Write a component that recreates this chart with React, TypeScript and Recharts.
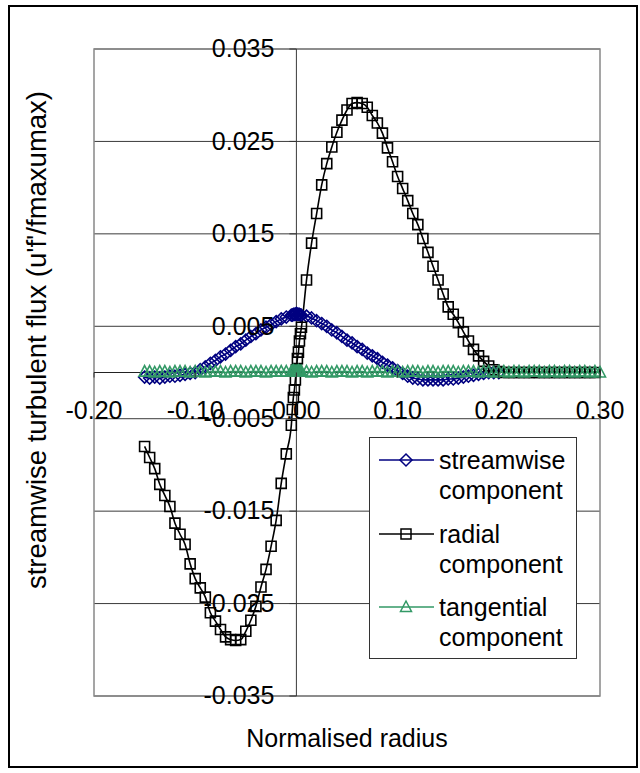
import React from "react";
import {
  LineChart,
  Line,
  XAxis,
  YAxis,
  CartesianGrid,
  ReferenceLine,
  ReferenceArea,
  Legend,
} from "recharts";

// normalised radius of each measurement station (finer steps near the axis)
const radius = [
  -0.15, -0.145, -0.14, -0.135, -0.13, -0.125, -0.12, -0.115, -0.11, -0.105,
  -0.1, -0.095, -0.09, -0.085, -0.08, -0.075, -0.07, -0.065, -0.06, -0.055,
  -0.05, -0.045, -0.04, -0.035, -0.03, -0.025, -0.02, -0.015, -0.01, -0.005,
  -0.004, -0.003, -0.002, -0.001, 0.0, 0.001, 0.002, 0.003, 0.004,
  0.005, 0.01, 0.015, 0.02, 0.025, 0.03, 0.035, 0.04, 0.045, 0.05,
  0.055, 0.06, 0.065, 0.07, 0.075, 0.08, 0.085, 0.09, 0.095, 0.1,
  0.105, 0.11, 0.115, 0.12, 0.125, 0.13, 0.135, 0.14, 0.145, 0.15,
  0.155, 0.16, 0.165, 0.17, 0.175, 0.18, 0.185, 0.19, 0.195, 0.2,
  0.205, 0.21, 0.215, 0.22, 0.225, 0.23, 0.235, 0.24, 0.245, 0.25,
  0.255, 0.26, 0.265, 0.27, 0.275, 0.28, 0.285, 0.29, 0.295, 0.3,
];

const streamwise = [
  -0.0005, -0.0006, -0.0005, -0.0006, -0.0005, -0.0004, -0.0004, -0.0003, -0.0002, -0.0001,
  0.0, 0.0003, 0.0006, 0.001, 0.0013, 0.0017, 0.002, 0.0024, 0.0028, 0.0031,
  0.0035, 0.0039, 0.0042, 0.0046, 0.0049, 0.0052, 0.0055, 0.0058, 0.006, 0.0062,
  0.0062, 0.0063, 0.0063, 0.0063, 0.0064, 0.0063, 0.0063, 0.0063, 0.0062,
  0.0062, 0.0061, 0.0059, 0.0056, 0.0053, 0.005, 0.0046, 0.0043, 0.0039, 0.0035,
  0.0032, 0.0028, 0.0025, 0.0021, 0.0018, 0.0015, 0.0011, 0.0008, 0.0005, 0.0002,
  -0.0001, -0.0004, -0.0006, -0.0007, -0.0008, -0.0008, -0.0008, -0.0008, -0.0008, -0.0007,
  -0.0007, -0.0006, -0.0005, -0.0004, -0.0003, -0.0002, -0.0001, 0.0, 0.0, 0.0,
  null, null, null, null, null, null, null, null, null, null,
  null, null, null, null, null, null, null, null, null, null,
];

const radial = [
  -0.008, -0.0092, -0.0104, -0.0121, -0.0133, -0.0145, -0.0163, -0.0175, -0.0186, -0.0207,
  -0.0223, -0.0233, -0.0243, -0.026, -0.0269, -0.0278, -0.0286, -0.0289, -0.029, -0.0289,
  -0.028, -0.0268, -0.0253, -0.0232, -0.0213, -0.0188, -0.016, -0.012, -0.0088, -0.0057,
  -0.004, -0.0027, -0.0019, -0.0008, 0.0003, 0.0015, 0.0022, 0.0034, 0.0042,
  0.0049, 0.01, 0.014, 0.0172, 0.0203, 0.0226, 0.0244, 0.026, 0.0273, 0.0284,
  0.0291, 0.0292, 0.0291, 0.0287, 0.0278, 0.027, 0.0259, 0.0243, 0.0228, 0.0212,
  0.0199, 0.0186, 0.0172, 0.016, 0.0145, 0.013, 0.0115, 0.01, 0.0085, 0.0071,
  0.0063, 0.0054, 0.0044, 0.0034, 0.0025, 0.0018, 0.0012, 0.0007, 0.0003, 0.0001,
  0.0, 0.0, 0.0, 0.0, 0.0, 0.0, 0.0, 0.0, 0.0, 0.0,
  0.0, 0.0, 0.0, 0.0, 0.0, 0.0, 0.0, 0.0, 0.0, null,
];

const tangential = [
  0.0001, 0.0001, 0.0, 0.0001, 0.0001, 0.0, 0.0001, 0.0001, 0.0001, 0.0,
  0.0001, 0.0001, 0.0, 0.0001, 0.0001, 0.0001, 0.0, 0.0001, 0.0001, 0.0001,
  0.0, 0.0001, 0.0001, 0.0001, 0.0, 0.0001, 0.0001, 0.0001, 0.0001, 0.0001,
  0.0001, 0.0002, 0.0001, 0.0001, 0.0001, 0.0001, 0.0002, 0.0001, 0.0001,
  0.0001, 0.0001, 0.0, 0.0001, 0.0001, 0.0001, 0.0, 0.0001, 0.0001, 0.0001,
  0.0, 0.0001, 0.0001, 0.0, 0.0001, 0.0001, 0.0001, 0.0, 0.0001, 0.0001,
  0.0, 0.0001, 0.0001, 0.0001, 0.0, 0.0001, 0.0001, 0.0, 0.0001, 0.0001,
  0.0001, 0.0, 0.0001, 0.0001, 0.0001, 0.0, 0.0001, 0.0001, 0.0, 0.0001,
  0.0001, 0.0, 0.0001, 0.0001, 0.0, 0.0001, 0.0001, 0.0001, 0.0, 0.0001,
  0.0001, 0.0, 0.0001, 0.0001, 0.0, 0.0001, 0.0001, 0.0, 0.0001, 0.0,
];

const xTicks = [-0.2, -0.1, 0, 0.1, 0.2, 0.3];
const yTicks = [-0.035, -0.025, -0.015, -0.005, 0.005, 0.015, 0.025, 0.035];

const data = radius.map((r, i) => ({
  r,
  streamwise: streamwise[i],
  radial: radial[i],
  tangential: tangential[i],
}));

type Shape = "diamond" | "square" | "triangle";

const series: { key: string; name: string; color: string; shape: Shape }[] = [
  { key: "streamwise", name: "streamwise component", color: "#000080", shape: "diamond" },
  { key: "radial", name: "radial component", color: "#000000", shape: "square" },
  { key: "tangential", name: "tangential component", color: "#339966", shape: "triangle" },
];

const FONT = '"Liberation Sans", Arial, sans-serif';
const FONT_SIZE = 25;
const TITLE_Y_SIZE = 27.5;
const W = 640;
const H = 773;
const Y_AXIS_W = 60;
const X_AXIS_H = 30;
const margin = { top: 49, right: 40, bottom: 77 - X_AXIS_H, left: 94 - Y_AXIS_W };
const plotLeft = margin.left + Y_AXIS_W;
const plotW = W - plotLeft - margin.right;
const plotH = H - margin.top - margin.bottom - X_AXIS_H;
const xMin = xTicks[0];
const xMax = xTicks[xTicks.length - 1];
const yMin = yTicks[0];
const yMax = yTicks[yTicks.length - 1];
// the axes cross at the origin, not at the plot edges
const axisX = plotLeft + ((0 - xMin) / (xMax - xMin)) * plotW;
const axisY = margin.top + (yMax / (yMax - yMin)) * plotH;

const markerPath = (shape: Shape, cx: number, cy: number) => {
  if (shape === "diamond")
    return `M${cx},${cy - 6}L${cx + 6},${cy}L${cx},${cy + 6}L${cx - 6},${cy}Z`;
  if (shape === "square") return `M${cx - 5},${cy - 5}h10v10h-10Z`;
  return `M${cx},${cy - 6}L${cx + 5.5},${cy + 4.5}L${cx - 5.5},${cy + 4.5}Z`;
};

const makeDot = (shape: Shape, color: string) => (props: any) => {
  const { cx, cy, value, index } = props;
  if (value == null || cx == null || cy == null) return <g key={`e-${index}`} />;
  return (
    <path
      key={`m-${index}`}
      d={markerPath(shape, cx, cy)}
      fill="none"
      stroke={color}
      strokeWidth={1.6}
    />
  );
};

const XTick = ({ x, payload }: any) => (
  <g>
    <line x1={x} x2={x} y1={axisY} y2={axisY + 5} stroke="#333" />
    <text
      x={x}
      y={axisY + 46}
      textAnchor="middle"
      fontFamily={FONT}
      fontSize={FONT_SIZE}
      fill="#000"
    >
      {Number(payload.value).toFixed(2)}
    </text>
  </g>
);

const YTick = ({ y, payload }: any) => (
  <g>
    <line x1={axisX - 7} x2={axisX} y1={y} y2={y} stroke="#333" />
    <text
      x={axisX - 22}
      y={y}
      dy="0.33em"
      textAnchor="end"
      fontFamily={FONT}
      fontSize={FONT_SIZE}
      fill="#000"
    >
      {Number(payload.value).toFixed(3)}
    </text>
  </g>
);

const YTitle = () => {
  const cy = 340;
  return (
    <text
      x={46}
      y={cy}
      transform={`rotate(-90 46 ${cy})`}
      textAnchor="middle"
      fontFamily={FONT}
      fontSize={TITLE_Y_SIZE}
      fill="#000"
    >
      streamwise turbulent flux (u'f'/fmaxumax)
    </text>
  );
};

const XTitle = () => (
  <text
    x={plotLeft + plotW / 2}
    y={747}
    textAnchor="middle"
    fontFamily={FONT}
    fontSize={FONT_SIZE}
    fill="#000"
  >
    Normalised radius
  </text>
);

const LegendBox = ({ payload }: any) => {
  const items = [...(payload ?? [])].sort(
    (a: any, b: any) =>
      series.findIndex((s) => s.key === a.dataKey) - series.findIndex((s) => s.key === b.dataKey)
  );
  return (
    <div
      style={{
        position: "relative",
        width: 208,
        height: 222,
        boxSizing: "border-box",
        border: "1px solid #333",
        background: "#fff",
        fontFamily: FONT,
        fontSize: FONT_SIZE,
        lineHeight: "30px",
        color: "#000",
      }}
    >
      {items.map((p: any, i: number) => {
        const s = series.find((d) => d.key === p.dataKey) ?? series[i];
        const [first, ...rest] = String(p.value).split(" ");
        return (
          <div key={s.key} style={{ position: "absolute", left: 0, top: 7 + 73.5 * i }}>
            <svg width={60} height={20} style={{ position: "absolute", left: 8, top: 5 }}>
              <line x1={1} x2={56} y1={10} y2={10} stroke={s.color} strokeWidth={1.5} />
              <path
                d={markerPath(s.shape, 28, 10)}
                fill="none"
                stroke={s.color}
                strokeWidth={1.5}
              />
            </svg>
            <div style={{ position: "absolute", left: 69, top: 0, whiteSpace: "nowrap" }}>
              {first}
              <br />
              {rest.join(" ")}
            </div>
          </div>
        );
      })}
    </div>
  );
};

export default function App() {
  return (
    <div
      style={{
        position: "absolute",
        left: 0,
        top: 0,
        width: W,
        height: H,
        background: "#fff",
      }}
    >
      <LineChart width={W} height={H} data={data} margin={margin}>
        <CartesianGrid vertical={false} stroke="#3a3a3a" />
        <ReferenceArea
          x1={xMin}
          x2={xMax}
          y1={yMin}
          y2={yMax}
          fill="none"
          stroke="#888"
          strokeWidth={1.5}
        />
        <ReferenceLine x={0} stroke="#3a3a3a" />
        <ReferenceLine y={0} stroke="#222" />
        <XAxis
          dataKey="r"
          type="number"
          domain={[xMin, xMax]}
          ticks={xTicks}
          interval={0}
          height={X_AXIS_H}
          axisLine={false}
          tickLine={false}
          tick={<XTick />}
          label={<XTitle />}
        />
        <YAxis
          type="number"
          domain={[yMin, yMax]}
          ticks={yTicks}
          interval={0}
          width={Y_AXIS_W}
          axisLine={false}
          tickLine={false}
          tick={<YTick />}
          label={<YTitle />}
        />
        {series.map((s) => (
          <Line
            key={s.key}
            dataKey={s.key}
            name={s.name}
            type="monotone"
            stroke={s.color}
            strokeWidth={1.6}
            dot={makeDot(s.shape, s.color)}
            activeDot={false}
            isAnimationActive={false}
          />
        ))}
        <Legend
          layout="horizontal"
          verticalAlign="middle"
          align="center"
          wrapperStyle={{ position: "absolute", left: 369, top: 437, width: 208, height: 222 }}
          content={<LegendBox />}
        />
      </LineChart>
      <div
        style={{
          position: "absolute",
          left: 8,
          top: 5,
          width: 630,
          height: 763,
          boxSizing: "border-box",
          border: "2px solid #000",
          pointerEvents: "none",
        }}
      />
    </div>
  );
}
